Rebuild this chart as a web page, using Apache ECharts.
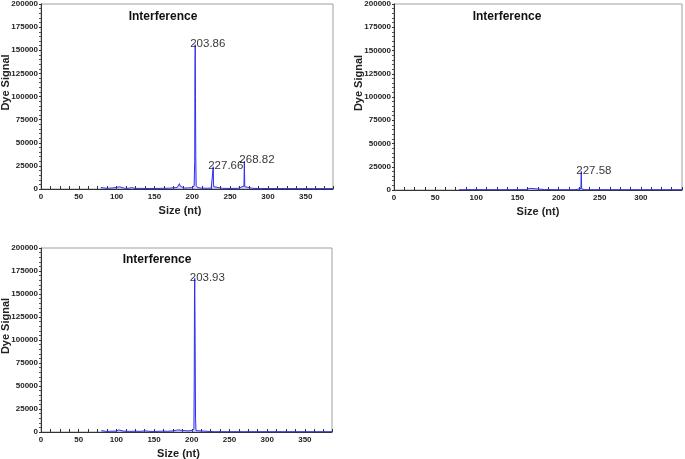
<!DOCTYPE html>
<html>
<head>
<meta charset="utf-8">
<script src="https://cdn.jsdelivr.net/npm/echarts@6/dist/echarts.min.js"></script>
<style>
  html, body { margin: 0; padding: 0; background: #fff; }
  #chart { width: 685px; height: 459px; }
</style>
</head>
<body>
<div id="chart"></div>
<script>
// electropherogram traces, [size (nt), dye signal]
const trace1 = [
  [79, 1500], [81, 2600], [83, 1200], [86, 800], [90, 900], [95, 1100], [100, 1800],
  [102, 2900], [104, 2300], [106, 1300], [110, 900], [115, 700], [120, 1500], [122, 800],
  [125, 600], [130, 700], [140, 500], [150, 600], [160, 700], [170, 900], [175, 1300],
  [180, 1600], [182, 3200], [183, 5800], [184, 3000], [186, 1500], [190, 1000], [195, 1200],
  [199, 1500], [202.4, 3000], [203.2, 30000], [203.5, 125000], [203.86, 156000], [204.2, 100000],
  [204.6, 36000], [205.1, 4000], [207, 1500], [212, 1000], [218, 800], [225, 900],
  [227.1, 3000], [227.66, 24000], [228.2, 2500], [230, 900], [240, 700], [250, 600],
  [260, 700], [268.3, 3000], [268.82, 30000], [269.4, 2500], [272, 900], [280, 700],
  [290, 600], [300, 500], [320, 500], [340, 400], [360, 400], [386, 400]
];
const trace2 = [
  [79, 300], [100, 400], [130, 300], [160, 400], [165, 1800], [166, 400], [183, 500],
  [184, 1700], [185, 400], [200, 300], [220, 300], [227.1, 1500], [227.58, 20000],
  [228.1, 1200], [232, 300], [260, 300], [300, 300], [350, 300]
];
const trace3 = [
  [80, 1500], [82, 900], [86, 700], [92, 800], [100, 1000], [103, 2200], [105, 1500],
  [110, 900], [118, 700], [125, 900], [132, 700], [138, 1300], [142, 800], [150, 600],
  [160, 900], [168, 800], [175, 1200], [180, 2000], [183, 2300], [186, 1800], [190, 1600],
  [195, 1200], [199, 1500], [202.8, 3000], [203.3, 60000], [203.6, 150000], [203.93, 167000],
  [204.3, 122000], [204.6, 75000], [205, 15000], [205.6, 1500], [208, 400], [230, 300],
  [270, 300], [320, 300], [386, 300]
];
const peaks1 = [[203.86, 156000], [227.66, 24000], [268.82, 30000]];
const peaks2 = [[227.58, 20000]];
const peaks3 = [[203.93, 167000]];

const titleText = "Interference";
const xName = "Size (nt)";
const yName = "Dye Signal";

const panels = [
  { grid: { left: 41, top: 4, width: 292, height: 185 }, xMax: 386, titleX: 158, titleY: 6, xNamePad: 14, trace: trace1, peaks: peaks1 },
  { grid: { left: 394, top: 4, width: 288, height: 186 }, xMax: 350, titleX: 502, titleY: 6, xNamePad: 0, trace: trace2, peaks: peaks2 },
  { grid: { left: 41, top: 248, width: 291, height: 184 }, xMax: 386, titleX: 152, titleY: 249, xNamePad: 16, trace: trace3, peaks: peaks3 }
];

const font = "Liberation Sans, Arial, sans-serif";
const lineColor = "#2f2fee";

const option = {
  animation: false,
  backgroundColor: "#fff",
  title: [],
  grid: [],
  xAxis: [],
  yAxis: [],
  series: []
};

panels.forEach((p, i) => {
  option.grid.push(Object.assign({
    show: true,
    containLabel: false,
    outerBoundsMode: "none",
    borderColor: "#a0a0a0",
    borderWidth: 1,
    backgroundColor: "transparent"
  }, p.grid));

  option.title.push({
    text: titleText,
    left: p.titleX,
    top: p.titleY,
    textAlign: "center",
    textStyle: { fontFamily: font, fontSize: 12, fontWeight: "bold", color: "#111" }
  });

  option.xAxis.push({
    gridIndex: i,
    type: "value",
    min: 0,
    max: p.xMax,
    interval: 50,
    name: xName,
    nameLocation: "middle",
    nameGap: 16,
    nameMoveOverlap: false,
    nameTextStyle: {
      fontFamily: font, fontSize: 11, fontWeight: "bold", color: "#222",
      padding: [0, p.xNamePad, 0, 0]
    },
    axisLine: { onZero: false, lineStyle: { color: "#333", width: 1 } },
    axisTick: { show: true, inside: true, length: 3, lineStyle: { color: "#333" } },
    minorTick: { show: true, splitNumber: 4, length: 3, lineStyle: { color: "#333" } },
    axisLabel: {
      fontFamily: font, fontSize: 8, fontWeight: "bold", color: "#222", margin: 4,
      showMaxLabel: false
    },
    splitLine: { show: false }
  });

  option.yAxis.push({
    gridIndex: i,
    type: "value",
    min: 0,
    max: 200000,
    interval: 25000,
    name: yName,
    nameLocation: "middle",
    nameGap: 30,
    nameMoveOverlap: false,
    nameTextStyle: {
      fontFamily: font, fontSize: 11, fontWeight: "bold", color: "#222",
      padding: [0, 0, 0, 28]
    },
    axisLine: { show: true, lineStyle: { color: "#333", width: 1 } },
    axisTick: { show: true, inside: false, length: 2, lineStyle: { color: "#333" } },
    minorTick: { show: true, splitNumber: 5, length: 2, lineStyle: { color: "#555" } },
    axisLabel: {
      fontFamily: font, fontSize: 8, fontWeight: "bold", color: "#222", margin: 3,
      formatter: (v) => String(v)
    },
    splitLine: { show: false }
  });

  option.series.push({
    type: "line",
    xAxisIndex: i,
    yAxisIndex: i,
    data: p.trace,
    showSymbol: false,
    symbol: "none",
    lineStyle: { color: lineColor, width: 1 },
    areaStyle: { color: "rgba(110,110,255,0.35)", origin: "start" },
    z: 3
  });

  option.series.push({
    type: "scatter",
    xAxisIndex: i,
    yAxisIndex: i,
    data: p.peaks,
    symbolSize: 0,
    silent: true,
    label: {
      show: true,
      position: "right",
      distance: 0,
      offset: [-5, -1],
      formatter: (d) => d.value[0].toFixed(2),
      fontFamily: font,
      fontSize: 11.5,
      color: "#000"
    },
    z: 5
  });
});

const chart = echarts.init(document.getElementById("chart"));
chart.setOption(option);
</script>
</body>
</html>
